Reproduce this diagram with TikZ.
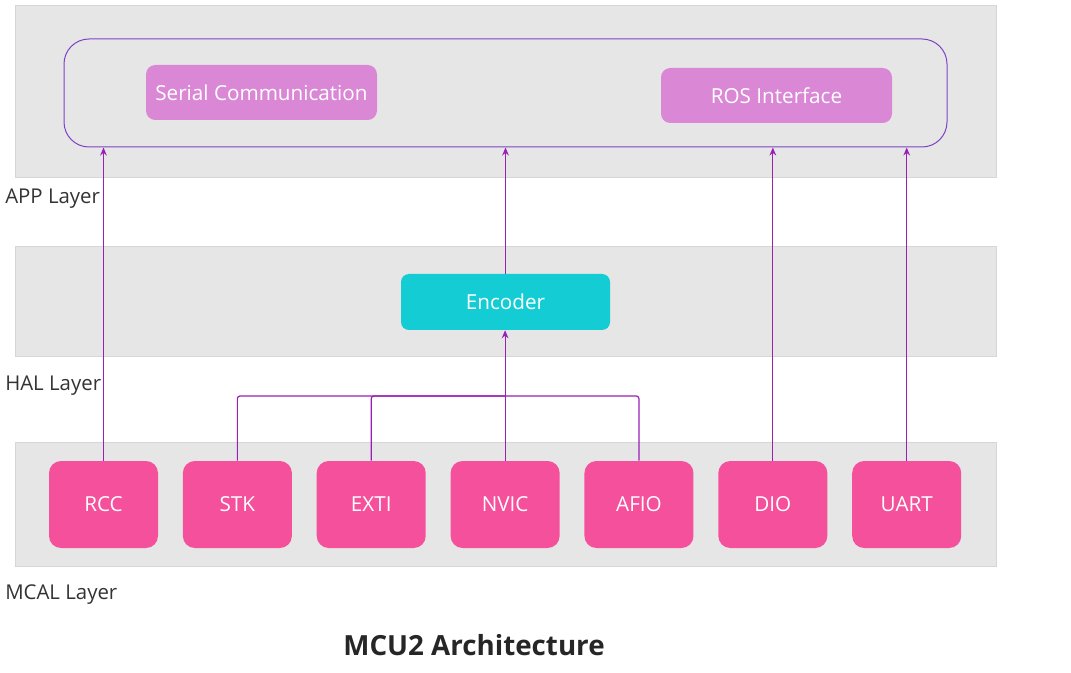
\documentclass[tikz,border=0pt]{standalone}
\usepackage{fontspec}
\setmainfont{Open Sans}
\usetikzlibrary{positioning,arrows.meta}
\definecolor{bandgray}{HTML}{E6E6E6}
\definecolor{bandline}{HTML}{D6D6D6}
\definecolor{appline}{HTML}{7E42C6}
\definecolor{appfill}{HTML}{DA88D6}
\definecolor{encfill}{HTML}{14CDD4}
\definecolor{mcalfill}{HTML}{F4509B}
\definecolor{linkpurple}{HTML}{9A1FB6}
\definecolor{labeltext}{HTML}{333333}

\begin{document}
\begin{tikzpicture}[
      x=0.75pt, y=-0.75pt,
      band/.style={draw=bandline, fill=bandgray, line width=0.75pt},
      box/.style={rounded corners=7pt, text=white, inner sep=0pt,
        font=\fontsize{15.5}{18}\selectfont},
      appbox/.style={box, fill=appfill, minimum width=173.25pt, minimum height=41.25pt},
      mcal/.style={box, fill=mcalfill, rounded corners=9pt,
        minimum width=81.75pt, minimum height=65.25pt},
      layer/.style={anchor=west, text=labeltext, inner sep=0pt,
        font=\fontsize{15.3}{18}\selectfont},
      link/.style={draw=linkpurple, line width=0.9pt},
      >={Stealth[length=6pt,width=5pt]},
      node distance=18.25pt
      ]

      \useasboundingbox (0,0) rectangle (1071,673);

      % layer bands
      \path[band] (15,6) rectangle (996,178);
      \path[band] (15,247) rectangle (996,357);
      \path[band] (15,443) rectangle (996,566);

      \node[layer] (lapp)  at (5,199) {APP Layer};
      \node[layer] (lhal)  at (5,386) {HAL Layer};
      \node[layer] (lmcal) at (5,595) {MCAL Layer};

      % APP layer
      \node[draw=appline, line width=0.75pt, rounded corners=18.75pt,
        minimum width=662.25pt, minimum height=81pt, inner sep=0pt] (app) at (505.5,93) {};
      \node[appbox] (serial) at (261.5,92.5) {Serial Communication};
      \node[appbox] (ros) at (776.5,95.5) {ROS Interface};

      % HAL layer
      \node[box, fill=encfill, rounded corners=6pt,
        minimum width=156.75pt, minimum height=42pt] (enc) at (505.5,302) {Encoder};

      % MCAL layer
      \node[mcal] (rcc) at (103.5,504.5) {RCC};
      \node[mcal, right=of rcc]  (stk)  {STK};
      \node[mcal, right=of stk]  (exti) {EXTI};
      \node[mcal, right=of exti] (nvic) {NVIC};
      \node[mcal, right=of nvic] (afio) {AFIO};
      \node[mcal, right=of afio] (dio)  {DIO};
      \node[mcal, right=of dio]  (uart) {UART};

      \coordinate (bus) at (nvic.north |- 0,396);

  % Connect the nodes
  \draw[link,->] (rcc.north) -- (rcc.north |- app.south);
  \draw[link,->] (enc.north) -- (enc.north |- app.south);
  \draw[link,->] (dio.north) -- (dio.north |- app.south);
  \draw[link,->] (uart.north) -- (uart.north |- app.south);
  \draw[link,rounded corners=2pt] (stk.north) |- (bus);
  \draw[link,rounded corners=2pt] (exti.north) |- (bus);
  \draw[link,rounded corners=2pt] (afio.north) |- (bus);
  \draw[link,->] (nvic.north) -- (nvic.north |- enc.south);

      \node[font=\fontsize{20.8}{24}\selectfont\bfseries, text=black!85] (title) at (474,645) {MCU2 Architecture};

\end{tikzpicture}
\end{document}
